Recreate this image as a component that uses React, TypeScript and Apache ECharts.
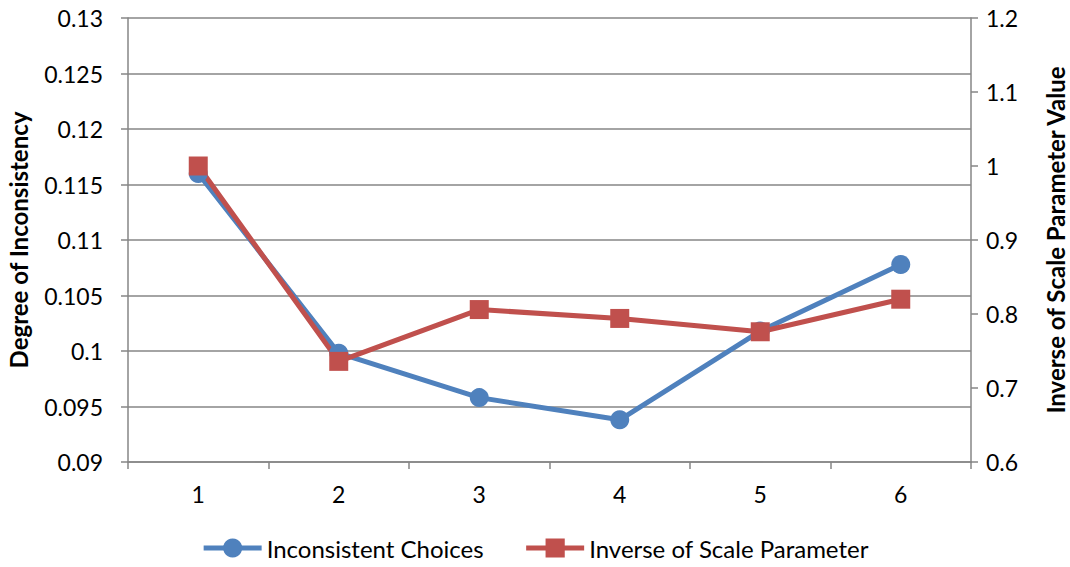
import React, { useEffect, useRef } from "react";
import * as echarts from "echarts";

const categories = ["1", "2", "3", "4", "5", "6"];
const inconsistentChoices = [0.116, 0.0998, 0.0958, 0.0938, 0.1018, 0.1078];
const inverseScale = [1.0, 0.736, 0.806, 0.794, 0.776, 0.82];

const FONT = "Lato, 'Open Sans', sans-serif";

export default function App() {
  const ref = useRef<HTMLDivElement>(null);
  useEffect(() => {
    document.body.style.margin = "0";
    const chart = echarts.init(ref.current!, null, { renderer: "svg" });
    const gridColor = "#868686";
    chart.setOption({
      animation: false,
      textStyle: { fontFamily: FONT },
      grid: { left: 128, right: 99, top: 18, bottom: 105, outerBoundsMode: "none", containLabel: false },
      legend: {
        bottom: 2,
        left: "center",
        itemWidth: 58,
        itemHeight: 24,
        itemGap: 40,
        lineStyle: { width: 5 },
        textStyle: { fontSize: 24, color: "#000", fontFamily: FONT },
        data: ["Inconsistent Choices", "Inverse of Scale Parameter"],
      },
      xAxis: {
        type: "category",
        data: categories,
        boundaryGap: true,
        axisLine: { lineStyle: { color: gridColor, width: 1.5 } },
        axisTick: { show: true, length: 7, lineStyle: { color: gridColor, width: 1.5 } },
        axisLabel: { fontSize: 23, color: "#000", margin: 20, fontFamily: FONT },
      },
      yAxis: [
        {
          type: "value",
          min: 0.09,
          max: 0.13,
          interval: 0.005,
          name: "Degree of Inconsistency",
          nameLocation: "middle",
          nameGap: 98,
          nameTextStyle: { fontSize: 24, fontWeight: "bold", color: "#000", fontFamily: FONT },
          axisLine: { show: true, lineStyle: { color: gridColor, width: 1.5 } },
          axisTick: { show: true, length: 7, lineStyle: { color: gridColor, width: 1.5 } },
          axisLabel: {
            fontSize: 23,
            color: "#000",
            margin: 25,
            fontFamily: FONT,
            formatter: (v: number) => String(parseFloat(v.toFixed(3))),
          },
          splitLine: { show: true, lineStyle: { color: gridColor, width: 1.5 } },
        },
        {
          type: "value",
          min: 0.6,
          max: 1.2,
          interval: 0.1,
          position: "right",
          name: "Inverse of Scale Parameter Value",
          nameLocation: "middle",
          nameGap: 72,
          nameRotate: 90,
          nameTextStyle: { fontSize: 24, fontWeight: "bold", color: "#000", fontFamily: FONT },
          axisLine: { show: true, lineStyle: { color: gridColor, width: 1.5 } },
          axisTick: { show: true, length: 7, lineStyle: { color: gridColor, width: 1.5 } },
          axisLabel: {
            fontSize: 23,
            color: "#000",
            margin: 15,
            fontFamily: FONT,
            formatter: (v: number) => String(parseFloat(v.toFixed(2))),
          },
          splitLine: { show: false },
        },
      ],
      series: [
        {
          name: "Inconsistent Choices",
          type: "line",
          yAxisIndex: 0,
          data: inconsistentChoices,
          symbol: "circle",
          symbolSize: 19,
          lineStyle: { color: "#4F81BD", width: 5 },
          itemStyle: { color: "#4F81BD" },
        },
        {
          name: "Inverse of Scale Parameter",
          type: "line",
          yAxisIndex: 1,
          data: inverseScale,
          symbol: "rect",
          symbolSize: 19,
          lineStyle: { color: "#C0504D", width: 5 },
          itemStyle: { color: "#C0504D" },
        },
      ],
    });
    return () => chart.dispose();
  }, []);
  return <div ref={ref} style={{ width: 1070, height: 567 }} />;
}
